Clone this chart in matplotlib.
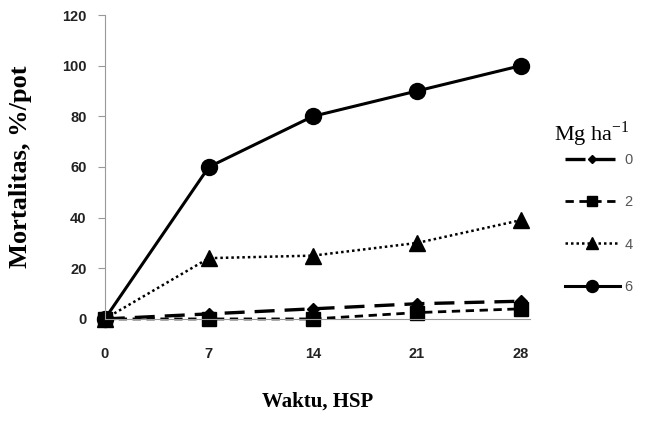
import matplotlib
matplotlib.use("Agg")
import matplotlib.pyplot as plt

# data
hari = [0, 7, 14, 21, 28]
dosis = ["0", "2", "4", "6"]
mg0 = [0, 2, 4, 6, 7]
mg2 = [0, 0, 0, 2.5, 4]
mg4 = [0, 24, 25, 30, 39]
mg6 = [0, 60, 80, 90, 100]
yticks = [0, 20, 40, 60, 80, 100, 120]

plt.rcParams['mathtext.fontset'] = 'stix'
tickfont = ['Liberation Sans Narrow', 'Liberation Sans', 'DejaVu Sans']

fig = plt.figure(figsize=(6.55, 4.23), dpi=100)
ax = fig.add_axes([0.160, 0.246, 0.649, 0.7185])

ax.plot(hari, mg0, color='black', lw=2.4, ls=(0, (6, 3)), marker='D', ms=6, label=dosis[0])
ax.plot(hari, mg2, color='black', lw=2.0, ls=(0, (3, 2)), marker='s', ms=10, label=dosis[1])
ax.plot(hari, mg4, color='black', lw=1.8, ls=(0, (1, 1.2)), marker='^', ms=11, label=dosis[2])
ax.plot(hari, mg6, color='black', lw=2.2, ls='-', marker='o', ms=11.5, label=dosis[3])

ax.set_xlim(0, 28.6)
ax.set_ylim(0, 120)
ax.set_xticks(hari)
ax.set_yticks(yticks)
for s in ['top', 'right']:
    ax.spines[s].set_visible(False)
ax.spines['left'].set_color('#999999')
ax.spines['bottom'].set_color('#999999')
ax.tick_params(axis='x', length=0, pad=20, labelsize=10.5, labelcolor='#222222')
ax.tick_params(axis='y', length=5, color='#999999', pad=8, labelsize=10.5, labelcolor='#222222')
for lab in ax.get_xticklabels() + ax.get_yticklabels():
    lab.set_family(tickfont)
    lab.set_fontweight('semibold')

ax.set_xlabel("Waktu, HSP", family='Liberation Serif', fontweight='bold', fontsize=15, labelpad=22)
ax.set_ylabel("Mortalitas, %/pot", family='Liberation Serif', fontweight='bold', fontsize=19, labelpad=22)
for c in ax.get_children():
    c.set_clip_on(False)

fig.text(0.846, 0.668, "Mg ha$^{\\mathregular{-1}}$", family='Liberation Serif', fontsize=16)
leg = ax.legend(loc='upper left', bbox_to_anchor=(0.842, 0.67), bbox_transform=fig.transFigure,
                frameon=False, handlelength=3.8, handletextpad=0.3, labelspacing=1.95,
                prop={'family': tickfont, 'size': 10.5}, markerscale=0.75)
for t in leg.get_texts():
    t.set_color('#555555')

fig.savefig("out.png", dpi=100)
